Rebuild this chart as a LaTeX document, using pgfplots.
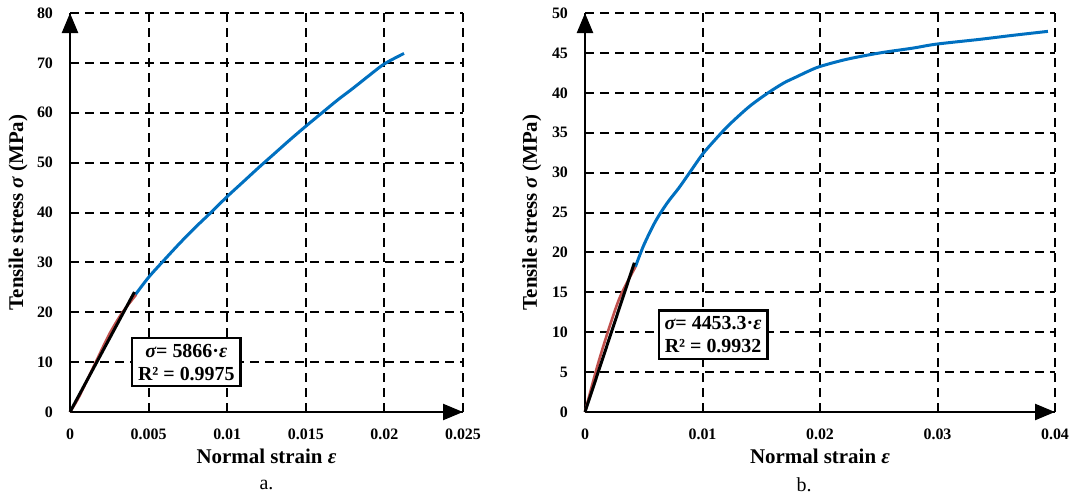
\documentclass[border=0pt]{standalone}
\usepackage{fontspec}
\setmainfont{Liberation Serif}
\usepackage{pgfplots}
\pgfplotsset{compat=1.18}
\usetikzlibrary{arrows.meta}
\definecolor{cblue}{RGB}{0,112,192}
\definecolor{cred}{RGB}{192,80,77}
\newcommand{\sig}{{\bfseries\itshape σ}}
\newcommand{\eps}{{\bfseries\itshape ε}}

\pgfplotsset{ssplot/.style={
  scale only axis, height=199.5bp,
  axis lines=left,
  axis line style={line width=1.2bp,-{Triangle[length=10bp,width=8bp]}},
  grid=major,
  major grid style={black, line width=1bp, dash pattern=on 4.5bp off 3bp},
  major tick length=0,
  scaled x ticks=false, scaled y ticks=false,
  xmin=0, ymin=0,
  tick label style={font=\fontsize{8}{9}\selectfont\bfseries},
  xticklabel style={yshift=-5bp},
  yticklabel style={xshift=-5bp},
  label style={font=\fontsize{10.5}{12}\selectfont\bfseries},
  xlabel style={at={(axis description cs:0.5,-0.11)}, anchor=center},
  clip=false,
}}

\begin{document}
\begin{tikzpicture}
% a.
\begin{axis}[ssplot, width=196.5bp,
  xmax=0.025, ymax=80,
  xtick={0,0.005,0.01,0.015,0.02,0.025},
  xticklabels={0,0.005,0.01,0.015,0.02,0.025},
  ytick={0,10,...,80},
  yticklabels={0,10,20,30,40,50,60,70,80},
  xlabel={Normal strain \eps},
  ylabel={Tensile stress \sig\ (MPa)},
  ylabel style={at={(axis description cs:-0.132,0.5)}, anchor=center},
]
\addplot[cblue, line width=1.5bp, smooth, tension=0.5] coordinates {(0.00413,23.4) (0.005,27.0) (0.006,30.5) (0.007,33.9) (0.008,37.1) (0.009,40.1) (0.010,43.2) (0.011,46.1) (0.012,49.0) (0.013,51.8) (0.014,54.6) (0.015,57.3) (0.016,59.9) (0.017,62.5) (0.018,64.9) (0.019,67.4) (0.020,69.8) (0.02125,71.9)};
\addplot[cred, line width=1.3bp, smooth] coordinates {(0,0) (0.0005,2.6) (0.001,5.8) (0.0017,10.4) (0.0025,15.6) (0.0033,19.8) (0.0042,23.5)};
\addplot[black, line width=1.5bp] coordinates {(0,0) (0.0041,24.05)};
\node[draw, line width=1.1bp, fill=white, align=center, inner sep=3bp,
  font=\fontsize{10}{11.5}\selectfont\bfseries] at (axis cs:0.0074,10) {\sig= 5866·\eps\\R² = 0.9975};
\node[font=\fontsize{10}{12}\selectfont] at (axis description cs:0.5,-0.183) {a.};
\end{axis}
% b.
\begin{axis}[ssplot, width=235bp, at={(257.5bp,0)},
  xmax=0.04, ymax=50,
  xtick={0,0.01,0.02,0.03,0.04},
  xticklabels={0,0.01,0.02,0.03,0.04},
  ytick={0,5,...,50},
  yticklabels={0,5,10,15,20,25,30,35,40,45,50},
  xlabel={Normal strain \eps},
  ylabel={Tensile stress \sig\ (MPa)},
  ylabel style={at={(axis description cs:-0.113,0.5)}, anchor=center},
]
\addplot[cblue, line width=1.5bp, smooth, tension=0.5] coordinates {(0.00429,18.2) (0.005,20.9) (0.006,23.9) (0.007,26.2) (0.008,28.1) (0.009,30.2) (0.010,32.3) (0.011,34.0) (0.012,35.6) (0.013,37.0) (0.014,38.3) (0.015,39.4) (0.016,40.4) (0.017,41.3) (0.018,42.0) (0.019,42.7) (0.020,43.3) (0.02227,44.2) (0.0251,45) (0.0279,45.6) (0.0299,46.1) (0.0336,46.7) (0.0364,47.2) (0.0394,47.7)};
\addplot[cred, line width=1.3bp, smooth] coordinates {(0,0) (0.001,5.5) (0.002,10.3) (0.003,14.5) (0.0043,18.2)};
\addplot[black, line width=1.5bp] coordinates {(0,0) (0.0042,18.7)};
\node[draw, line width=1.1bp, fill=white, align=center, inner sep=3bp,
  font=\fontsize{10}{11.5}\selectfont\bfseries] at (axis cs:0.0109,9.7) {\sig= 4453.3·\eps\\R² = 0.9932};
\node[font=\fontsize{10}{12}\selectfont] at (axis description cs:0.466,-0.183) {b.};
\end{axis}
\pgfresetboundingbox
\path (-35bp,-44bp) rectangle (502.5bp,206bp);
\end{tikzpicture}
\end{document}
